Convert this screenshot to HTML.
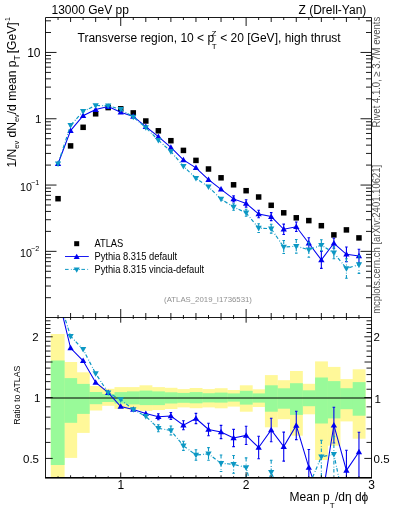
<!DOCTYPE html><html><head><meta charset="utf-8"><style>html,body{margin:0;padding:0;background:#fff;width:393px;height:512px;overflow:hidden}svg{display:block;will-change:transform}</style></head><body>
<svg width="393" height="512" viewBox="0 0 393 512" font-family="'Liberation Sans', sans-serif">
<defs><clipPath id="cm"><rect x="45.5" y="17.5" width="326" height="300"/></clipPath><clipPath id="cr"><rect x="45.5" y="317.5" width="326" height="160.2"/></clipPath></defs>
<g clip-path="url(#cr)">
<rect x="50.80" y="334.00" width="13.81" height="143.70" fill="#fff899"/>
<rect x="64.31" y="362.00" width="12.84" height="95.90" fill="#fff899"/>
<rect x="76.85" y="372.30" width="12.84" height="60.60" fill="#fff899"/>
<rect x="89.38" y="386.00" width="12.84" height="24.50" fill="#fff899"/>
<rect x="101.92" y="388.80" width="12.84" height="17.00" fill="#fff899"/>
<rect x="114.46" y="387.10" width="12.84" height="21.80" fill="#fff899"/>
<rect x="127.00" y="387.10" width="12.84" height="22.30" fill="#fff899"/>
<rect x="139.54" y="385.30" width="12.84" height="25.60" fill="#fff899"/>
<rect x="152.08" y="387.10" width="12.84" height="22.90" fill="#fff899"/>
<rect x="164.62" y="387.80" width="12.84" height="21.20" fill="#fff899"/>
<rect x="177.15" y="389.10" width="12.84" height="18.30" fill="#fff899"/>
<rect x="189.69" y="388.00" width="12.84" height="20.20" fill="#fff899"/>
<rect x="202.23" y="389.10" width="12.84" height="18.30" fill="#fff899"/>
<rect x="214.77" y="388.20" width="12.84" height="20.10" fill="#fff899"/>
<rect x="227.31" y="390.00" width="12.84" height="16.60" fill="#fff899"/>
<rect x="239.85" y="385.30" width="12.84" height="26.40" fill="#fff899"/>
<rect x="252.38" y="389.30" width="12.84" height="17.70" fill="#fff899"/>
<rect x="264.92" y="375.10" width="12.84" height="52.20" fill="#fff899"/>
<rect x="277.46" y="380.20" width="12.84" height="39.00" fill="#fff899"/>
<rect x="290.00" y="371.00" width="12.84" height="64.70" fill="#fff899"/>
<rect x="302.54" y="383.80" width="12.84" height="30.50" fill="#fff899"/>
<rect x="315.08" y="361.40" width="12.84" height="98.60" fill="#fff899"/>
<rect x="327.62" y="366.90" width="12.84" height="78.80" fill="#fff899"/>
<rect x="340.15" y="379.10" width="12.84" height="42.30" fill="#fff899"/>
<rect x="352.69" y="369.30" width="12.84" height="69.40" fill="#fff899"/>
<rect x="50.80" y="360.50" width="13.81" height="104.50" fill="#99fa99"/>
<rect x="64.31" y="378.10" width="12.84" height="44.70" fill="#99fa99"/>
<rect x="76.85" y="383.90" width="12.84" height="30.00" fill="#99fa99"/>
<rect x="89.38" y="392.00" width="12.84" height="12.20" fill="#99fa99"/>
<rect x="101.92" y="394.00" width="12.84" height="8.00" fill="#99fa99"/>
<rect x="114.46" y="392.10" width="12.84" height="11.50" fill="#99fa99"/>
<rect x="127.00" y="391.40" width="12.84" height="13.00" fill="#99fa99"/>
<rect x="139.54" y="390.60" width="12.84" height="14.50" fill="#99fa99"/>
<rect x="152.08" y="391.40" width="12.84" height="13.70" fill="#99fa99"/>
<rect x="164.62" y="392.30" width="12.84" height="11.20" fill="#99fa99"/>
<rect x="177.15" y="392.90" width="12.84" height="9.90" fill="#99fa99"/>
<rect x="189.69" y="392.10" width="12.84" height="11.20" fill="#99fa99"/>
<rect x="202.23" y="393.20" width="12.84" height="9.20" fill="#99fa99"/>
<rect x="214.77" y="392.60" width="12.84" height="10.00" fill="#99fa99"/>
<rect x="227.31" y="393.40" width="12.84" height="8.20" fill="#99fa99"/>
<rect x="239.85" y="390.80" width="12.84" height="13.80" fill="#99fa99"/>
<rect x="252.38" y="393.40" width="12.84" height="9.20" fill="#99fa99"/>
<rect x="264.92" y="385.30" width="12.84" height="26.40" fill="#99fa99"/>
<rect x="277.46" y="388.30" width="12.84" height="20.40" fill="#99fa99"/>
<rect x="290.00" y="383.20" width="12.84" height="31.70" fill="#99fa99"/>
<rect x="302.54" y="390.30" width="12.84" height="15.90" fill="#99fa99"/>
<rect x="315.08" y="377.50" width="12.84" height="46.00" fill="#99fa99"/>
<rect x="327.62" y="381.10" width="12.84" height="37.30" fill="#99fa99"/>
<rect x="340.15" y="388.20" width="12.84" height="21.00" fill="#99fa99"/>
<rect x="352.69" y="382.10" width="12.84" height="33.60" fill="#99fa99"/>
<line x1="45.5" y1="398.0" x2="371.5" y2="398.0" stroke="#000" stroke-width="1"/>
<polyline points="58.04,296.40 70.58,348.00 83.12,360.80 95.65,382.50 108.19,392.70 120.73,406.50 133.27,409.50 145.81,413.60 158.35,416.70 170.88,416.00 183.42,425.20 195.96,418.50 208.50,429.50 221.04,432.00 233.58,438.00 246.12,435.40 258.65,447.50 271.19,430.00 283.73,446.60 296.27,425.40 308.81,467.40 321.35,503.00 333.88,425.10 346.42,470.40 358.96,452.00" fill="none" stroke="#0000f0" stroke-width="1.05"/>
<path d="M158.35,413.70V419.70 M170.88,412.50V419.50 M183.42,420.70V429.70 M195.96,413.40V423.60 M208.50,423.20V435.80 M221.04,425.40V438.60 M233.58,429.40V446.60 M246.12,426.30V444.50 M258.65,436.30V458.70 M271.19,418.30V441.70 M283.73,432.10V461.10 M296.27,411.20V439.60 M308.81,449.50V490.00 M321.35,481.00V525.00 M333.88,407.20V443.00 M346.42,450.20V490.00 M358.96,432.20V490.00" fill="none" stroke="#0000f0" stroke-width="1.1"/>
<path d="M157.05,413.70h2.6 M157.05,419.70h2.6 M169.58,412.50h2.6 M169.58,419.50h2.6 M182.12,420.70h2.6 M182.12,429.70h2.6 M194.66,413.40h2.6 M194.66,423.60h2.6 M207.20,423.20h2.6 M207.20,435.80h2.6 M219.74,425.40h2.6 M219.74,438.60h2.6 M232.28,429.40h2.6 M232.28,446.60h2.6 M244.82,426.30h2.6 M244.82,444.50h2.6 M257.35,436.30h2.6 M257.35,458.70h2.6 M269.89,418.30h2.6 M269.89,441.70h2.6 M282.43,432.10h2.6 M282.43,461.10h2.6 M294.97,411.20h2.6 M294.97,439.60h2.6 M307.51,449.50h2.6 M307.51,490.00h2.6 M320.05,481.00h2.6 M320.05,525.00h2.6 M332.58,407.20h2.6 M332.58,443.00h2.6 M345.12,450.20h2.6 M345.12,490.00h2.6 M357.66,432.20h2.6 M357.66,490.00h2.6" fill="none" stroke="#0000f0" stroke-width="1.1"/>
<path d="M54.89,298.68L61.19,298.68L58.04,293.20Z" fill="#0000f0"/>
<path d="M67.43,350.28L73.73,350.28L70.58,344.80Z" fill="#0000f0"/>
<path d="M79.97,363.08L86.27,363.08L83.12,357.60Z" fill="#0000f0"/>
<path d="M92.50,384.78L98.80,384.78L95.65,379.30Z" fill="#0000f0"/>
<path d="M105.04,394.98L111.34,394.98L108.19,389.50Z" fill="#0000f0"/>
<path d="M117.58,408.78L123.88,408.78L120.73,403.30Z" fill="#0000f0"/>
<path d="M130.12,411.78L136.42,411.78L133.27,406.30Z" fill="#0000f0"/>
<path d="M142.66,415.88L148.96,415.88L145.81,410.40Z" fill="#0000f0"/>
<path d="M155.20,418.98L161.50,418.98L158.35,413.50Z" fill="#0000f0"/>
<path d="M167.73,418.28L174.03,418.28L170.88,412.80Z" fill="#0000f0"/>
<path d="M180.27,427.48L186.57,427.48L183.42,422.00Z" fill="#0000f0"/>
<path d="M192.81,420.78L199.11,420.78L195.96,415.30Z" fill="#0000f0"/>
<path d="M205.35,431.78L211.65,431.78L208.50,426.30Z" fill="#0000f0"/>
<path d="M217.89,434.28L224.19,434.28L221.04,428.80Z" fill="#0000f0"/>
<path d="M230.43,440.28L236.73,440.28L233.58,434.80Z" fill="#0000f0"/>
<path d="M242.97,437.68L249.27,437.68L246.12,432.20Z" fill="#0000f0"/>
<path d="M255.50,449.78L261.80,449.78L258.65,444.30Z" fill="#0000f0"/>
<path d="M268.04,432.28L274.34,432.28L271.19,426.80Z" fill="#0000f0"/>
<path d="M280.58,448.88L286.88,448.88L283.73,443.40Z" fill="#0000f0"/>
<path d="M293.12,427.68L299.42,427.68L296.27,422.20Z" fill="#0000f0"/>
<path d="M305.66,469.68L311.96,469.68L308.81,464.20Z" fill="#0000f0"/>
<path d="M318.20,505.28L324.50,505.28L321.35,499.80Z" fill="#0000f0"/>
<path d="M330.73,427.38L337.03,427.38L333.88,421.90Z" fill="#0000f0"/>
<path d="M343.27,472.68L349.57,472.68L346.42,467.20Z" fill="#0000f0"/>
<path d="M355.81,454.28L362.11,454.28L358.96,448.80Z" fill="#0000f0"/>
<polyline points="58.04,296.40 70.58,336.20 83.12,349.40 95.65,373.50 108.19,392.70 120.73,399.60 133.27,409.50 145.81,416.40 158.35,428.30 170.88,430.50 183.42,445.80 195.96,455.00 208.50,453.90 221.04,463.20 233.58,464.40 246.12,467.50 258.65,515.00 271.19,472.40 283.73,501.80 296.27,484.40 308.81,486.00 321.35,456.80 333.88,454.20 346.42,514.00 358.96,540.00" fill="none" stroke="#0c98c4" stroke-width="1.2" stroke-dasharray="3.6 2.3 0.8 1.5"/>
<path d="M158.35,424.80V431.80 M170.88,426.00V435.00 M183.42,441.20V450.40 M195.96,449.75V460.25 M208.50,447.60V460.20 M221.04,454.95V471.45 M233.58,455.50V473.30 M246.12,457.90V490.00 M258.65,502.00V528.00 M271.19,460.20V490.00 M283.73,482.80V520.80 M321.35,440.30V490.00 M333.88,436.20V490.00" fill="none" stroke="#0c98c4" stroke-width="1.1" stroke-dasharray="3.6 2.3 0.8 1.5"/>
<path d="M157.05,424.80h2.6 M157.05,431.80h2.6 M169.58,426.00h2.6 M169.58,435.00h2.6 M182.12,441.20h2.6 M182.12,450.40h2.6 M194.66,449.75h2.6 M194.66,460.25h2.6 M207.20,447.60h2.6 M207.20,460.20h2.6 M219.74,454.95h2.6 M219.74,471.45h2.6 M232.28,455.50h2.6 M232.28,473.30h2.6 M244.82,457.90h2.6 M244.82,490.00h2.6 M257.35,502.00h2.6 M257.35,528.00h2.6 M269.89,460.20h2.6 M269.89,490.00h2.6 M282.43,482.80h2.6 M282.43,520.80h2.6 M320.05,440.30h2.6 M320.05,490.00h2.6 M332.58,436.20h2.6 M332.58,490.00h2.6" fill="none" stroke="#0c98c4" stroke-width="1.1"/>
<path d="M54.89,294.12L61.19,294.12L58.04,299.60Z" fill="#0c98c4"/>
<path d="M67.43,333.92L73.73,333.92L70.58,339.40Z" fill="#0c98c4"/>
<path d="M79.97,347.12L86.27,347.12L83.12,352.60Z" fill="#0c98c4"/>
<path d="M92.50,371.22L98.80,371.22L95.65,376.70Z" fill="#0c98c4"/>
<path d="M105.04,390.42L111.34,390.42L108.19,395.90Z" fill="#0c98c4"/>
<path d="M117.58,397.32L123.88,397.32L120.73,402.80Z" fill="#0c98c4"/>
<path d="M130.12,407.22L136.42,407.22L133.27,412.70Z" fill="#0c98c4"/>
<path d="M142.66,414.12L148.96,414.12L145.81,419.60Z" fill="#0c98c4"/>
<path d="M155.20,426.02L161.50,426.02L158.35,431.50Z" fill="#0c98c4"/>
<path d="M167.73,428.22L174.03,428.22L170.88,433.70Z" fill="#0c98c4"/>
<path d="M180.27,443.52L186.57,443.52L183.42,449.00Z" fill="#0c98c4"/>
<path d="M192.81,452.72L199.11,452.72L195.96,458.20Z" fill="#0c98c4"/>
<path d="M205.35,451.62L211.65,451.62L208.50,457.10Z" fill="#0c98c4"/>
<path d="M217.89,460.92L224.19,460.92L221.04,466.40Z" fill="#0c98c4"/>
<path d="M230.43,462.12L236.73,462.12L233.58,467.60Z" fill="#0c98c4"/>
<path d="M242.97,465.22L249.27,465.22L246.12,470.70Z" fill="#0c98c4"/>
<path d="M255.50,512.72L261.80,512.72L258.65,518.20Z" fill="#0c98c4"/>
<path d="M268.04,470.12L274.34,470.12L271.19,475.60Z" fill="#0c98c4"/>
<path d="M280.58,499.52L286.88,499.52L283.73,505.00Z" fill="#0c98c4"/>
<path d="M293.12,482.12L299.42,482.12L296.27,487.60Z" fill="#0c98c4"/>
<path d="M305.66,483.72L311.96,483.72L308.81,489.20Z" fill="#0c98c4"/>
<path d="M318.20,454.52L324.50,454.52L321.35,460.00Z" fill="#0c98c4"/>
<path d="M330.73,451.92L337.03,451.92L333.88,457.40Z" fill="#0c98c4"/>
<path d="M343.27,511.72L349.57,511.72L346.42,517.20Z" fill="#0c98c4"/>
<path d="M355.81,537.72L362.11,537.72L358.96,543.20Z" fill="#0c98c4"/>
</g>
<g clip-path="url(#cm)">
<rect x="55.29" y="195.95" width="5.5" height="5.5" fill="#000"/>
<rect x="67.83" y="143.15" width="5.5" height="5.5" fill="#000"/>
<rect x="80.37" y="124.55" width="5.5" height="5.5" fill="#000"/>
<rect x="92.90" y="111.05" width="5.5" height="5.5" fill="#000"/>
<rect x="105.44" y="104.85" width="5.5" height="5.5" fill="#000"/>
<rect x="117.98" y="106.05" width="5.5" height="5.5" fill="#000"/>
<rect x="130.52" y="110.15" width="5.5" height="5.5" fill="#000"/>
<rect x="143.06" y="118.25" width="5.5" height="5.5" fill="#000"/>
<rect x="155.60" y="128.05" width="5.5" height="5.5" fill="#000"/>
<rect x="168.13" y="137.95" width="5.5" height="5.5" fill="#000"/>
<rect x="180.67" y="147.65" width="5.5" height="5.5" fill="#000"/>
<rect x="193.21" y="157.65" width="5.5" height="5.5" fill="#000"/>
<rect x="205.75" y="166.25" width="5.5" height="5.5" fill="#000"/>
<rect x="218.29" y="175.05" width="5.5" height="5.5" fill="#000"/>
<rect x="230.83" y="182.05" width="5.5" height="5.5" fill="#000"/>
<rect x="243.37" y="187.95" width="5.5" height="5.5" fill="#000"/>
<rect x="255.90" y="194.25" width="5.5" height="5.5" fill="#000"/>
<rect x="268.44" y="202.55" width="5.5" height="5.5" fill="#000"/>
<rect x="280.98" y="210.05" width="5.5" height="5.5" fill="#000"/>
<rect x="293.52" y="215.05" width="5.5" height="5.5" fill="#000"/>
<rect x="306.06" y="217.85" width="5.5" height="5.5" fill="#000"/>
<rect x="318.60" y="222.95" width="5.5" height="5.5" fill="#000"/>
<rect x="331.13" y="232.15" width="5.5" height="5.5" fill="#000"/>
<rect x="343.67" y="227.15" width="5.5" height="5.5" fill="#000"/>
<rect x="356.21" y="235.15" width="5.5" height="5.5" fill="#000"/>
<polyline points="58.04,163.80 70.58,130.60 83.12,115.70 95.65,109.60 108.19,106.60 120.73,112.30 133.27,116.40 145.81,126.60 158.35,136.70 170.88,147.40 183.42,159.90 195.96,167.80 208.50,179.60 221.04,189.30 233.58,198.90 246.12,203.40 258.65,214.00 271.19,216.60 283.73,229.30 296.27,226.80 308.81,243.30 321.35,259.90 333.88,243.30 346.42,254.30 358.96,256.00" fill="none" stroke="#0000f0" stroke-width="1.05"/>
<path d="M233.58,195.90V201.90 M246.12,199.70V207.10 M258.65,210.30V217.70 M271.19,212.60V220.60 M283.73,224.10V234.50 M296.27,222.05V231.55 M308.81,237.80V248.80 M321.35,251.40V268.40 M333.88,238.30V248.30 M346.42,247.00V261.60 M358.96,249.20V262.80" fill="none" stroke="#0000f0" stroke-width="1.1"/>
<path d="M232.28,195.90h2.6 M232.28,201.90h2.6 M244.82,199.70h2.6 M244.82,207.10h2.6 M257.35,210.30h2.6 M257.35,217.70h2.6 M269.89,212.60h2.6 M269.89,220.60h2.6 M282.43,224.10h2.6 M282.43,234.50h2.6 M294.97,222.05h2.6 M294.97,231.55h2.6 M307.51,237.80h2.6 M307.51,248.80h2.6 M320.05,251.40h2.6 M320.05,268.40h2.6 M332.58,238.30h2.6 M332.58,248.30h2.6 M345.12,247.00h2.6 M345.12,261.60h2.6 M357.66,249.20h2.6 M357.66,262.80h2.6" fill="none" stroke="#0000f0" stroke-width="1.1"/>
<path d="M54.89,166.08L61.19,166.08L58.04,160.60Z" fill="#0000f0"/>
<path d="M67.43,132.88L73.73,132.88L70.58,127.40Z" fill="#0000f0"/>
<path d="M79.97,117.98L86.27,117.98L83.12,112.50Z" fill="#0000f0"/>
<path d="M92.50,111.88L98.80,111.88L95.65,106.40Z" fill="#0000f0"/>
<path d="M105.04,108.88L111.34,108.88L108.19,103.40Z" fill="#0000f0"/>
<path d="M117.58,114.58L123.88,114.58L120.73,109.10Z" fill="#0000f0"/>
<path d="M130.12,118.68L136.42,118.68L133.27,113.20Z" fill="#0000f0"/>
<path d="M142.66,128.88L148.96,128.88L145.81,123.40Z" fill="#0000f0"/>
<path d="M155.20,138.98L161.50,138.98L158.35,133.50Z" fill="#0000f0"/>
<path d="M167.73,149.68L174.03,149.68L170.88,144.20Z" fill="#0000f0"/>
<path d="M180.27,162.18L186.57,162.18L183.42,156.70Z" fill="#0000f0"/>
<path d="M192.81,170.08L199.11,170.08L195.96,164.60Z" fill="#0000f0"/>
<path d="M205.35,181.88L211.65,181.88L208.50,176.40Z" fill="#0000f0"/>
<path d="M217.89,191.58L224.19,191.58L221.04,186.10Z" fill="#0000f0"/>
<path d="M230.43,201.18L236.73,201.18L233.58,195.70Z" fill="#0000f0"/>
<path d="M242.97,205.68L249.27,205.68L246.12,200.20Z" fill="#0000f0"/>
<path d="M255.50,216.28L261.80,216.28L258.65,210.80Z" fill="#0000f0"/>
<path d="M268.04,218.88L274.34,218.88L271.19,213.40Z" fill="#0000f0"/>
<path d="M280.58,231.58L286.88,231.58L283.73,226.10Z" fill="#0000f0"/>
<path d="M293.12,229.08L299.42,229.08L296.27,223.60Z" fill="#0000f0"/>
<path d="M305.66,245.58L311.96,245.58L308.81,240.10Z" fill="#0000f0"/>
<path d="M318.20,262.18L324.50,262.18L321.35,256.70Z" fill="#0000f0"/>
<path d="M330.73,245.58L337.03,245.58L333.88,240.10Z" fill="#0000f0"/>
<path d="M343.27,256.58L349.57,256.58L346.42,251.10Z" fill="#0000f0"/>
<path d="M355.81,258.28L362.11,258.28L358.96,252.80Z" fill="#0000f0"/>
<polyline points="58.04,163.80 70.58,125.40 83.12,111.40 95.65,105.50 108.19,105.80 120.73,109.30 133.27,117.00 145.81,127.60 158.35,140.20 170.88,151.50 183.42,166.20 195.96,178.30 208.50,186.80 221.04,199.10 233.58,207.00 246.12,212.80 258.65,228.10 271.19,228.70 283.73,247.00 296.27,246.30 308.81,249.70 321.35,245.20 333.88,252.80 346.42,268.50 358.96,264.60" fill="none" stroke="#0c98c4" stroke-width="1.2" stroke-dasharray="3.6 2.3 0.8 1.5"/>
<path d="M233.58,203.70V210.30 M246.12,209.30V216.30 M258.65,223.75V232.45 M271.19,224.25V233.15 M283.73,240.50V253.50 M296.27,239.50V253.10 M308.81,242.20V257.20 M321.35,239.70V250.70 M333.88,246.80V258.80 M346.42,258.70V278.30 M358.96,255.80V273.40" fill="none" stroke="#0c98c4" stroke-width="1.1" stroke-dasharray="3.6 2.3 0.8 1.5"/>
<path d="M232.28,203.70h2.6 M232.28,210.30h2.6 M244.82,209.30h2.6 M244.82,216.30h2.6 M257.35,223.75h2.6 M257.35,232.45h2.6 M269.89,224.25h2.6 M269.89,233.15h2.6 M282.43,240.50h2.6 M282.43,253.50h2.6 M294.97,239.50h2.6 M294.97,253.10h2.6 M307.51,242.20h2.6 M307.51,257.20h2.6 M320.05,239.70h2.6 M320.05,250.70h2.6 M332.58,246.80h2.6 M332.58,258.80h2.6 M345.12,258.70h2.6 M345.12,278.30h2.6 M357.66,255.80h2.6 M357.66,273.40h2.6" fill="none" stroke="#0c98c4" stroke-width="1.1"/>
<path d="M54.89,161.52L61.19,161.52L58.04,167.00Z" fill="#0c98c4"/>
<path d="M67.43,123.12L73.73,123.12L70.58,128.60Z" fill="#0c98c4"/>
<path d="M79.97,109.12L86.27,109.12L83.12,114.60Z" fill="#0c98c4"/>
<path d="M92.50,103.22L98.80,103.22L95.65,108.70Z" fill="#0c98c4"/>
<path d="M105.04,103.52L111.34,103.52L108.19,109.00Z" fill="#0c98c4"/>
<path d="M117.58,107.02L123.88,107.02L120.73,112.50Z" fill="#0c98c4"/>
<path d="M130.12,114.72L136.42,114.72L133.27,120.20Z" fill="#0c98c4"/>
<path d="M142.66,125.32L148.96,125.32L145.81,130.80Z" fill="#0c98c4"/>
<path d="M155.20,137.92L161.50,137.92L158.35,143.40Z" fill="#0c98c4"/>
<path d="M167.73,149.22L174.03,149.22L170.88,154.70Z" fill="#0c98c4"/>
<path d="M180.27,163.92L186.57,163.92L183.42,169.40Z" fill="#0c98c4"/>
<path d="M192.81,176.02L199.11,176.02L195.96,181.50Z" fill="#0c98c4"/>
<path d="M205.35,184.52L211.65,184.52L208.50,190.00Z" fill="#0c98c4"/>
<path d="M217.89,196.82L224.19,196.82L221.04,202.30Z" fill="#0c98c4"/>
<path d="M230.43,204.72L236.73,204.72L233.58,210.20Z" fill="#0c98c4"/>
<path d="M242.97,210.52L249.27,210.52L246.12,216.00Z" fill="#0c98c4"/>
<path d="M255.50,225.82L261.80,225.82L258.65,231.30Z" fill="#0c98c4"/>
<path d="M268.04,226.42L274.34,226.42L271.19,231.90Z" fill="#0c98c4"/>
<path d="M280.58,244.72L286.88,244.72L283.73,250.20Z" fill="#0c98c4"/>
<path d="M293.12,244.02L299.42,244.02L296.27,249.50Z" fill="#0c98c4"/>
<path d="M305.66,247.42L311.96,247.42L308.81,252.90Z" fill="#0c98c4"/>
<path d="M318.20,242.92L324.50,242.92L321.35,248.40Z" fill="#0c98c4"/>
<path d="M330.73,250.52L337.03,250.52L333.88,256.00Z" fill="#0c98c4"/>
<path d="M343.27,266.22L349.57,266.22L346.42,271.70Z" fill="#0c98c4"/>
<path d="M355.81,262.32L362.11,262.32L358.96,267.80Z" fill="#0c98c4"/>
</g>
<path d="M45.5,17.5H371.5V477.7H45.5Z M45.5,317.5H371.5 M58.04,17.5v2.5 M58.04,317.5v-2.5 M58.04,317.5v1.4 M58.04,477.7v-1.4 M70.58,17.5v4.5 M70.58,317.5v-4.5 M70.58,317.5v2.4 M70.58,477.7v-2.4 M83.12,17.5v2.5 M83.12,317.5v-2.5 M83.12,317.5v1.4 M83.12,477.7v-1.4 M95.65,17.5v4.5 M95.65,317.5v-4.5 M95.65,317.5v2.4 M95.65,477.7v-2.4 M108.19,17.5v2.5 M108.19,317.5v-2.5 M108.19,317.5v1.4 M108.19,477.7v-1.4 M120.73,17.5v8.5 M120.73,317.5v-8.5 M120.73,317.5v5.2 M120.73,477.7v-5.2 M133.27,17.5v2.5 M133.27,317.5v-2.5 M133.27,317.5v1.4 M133.27,477.7v-1.4 M145.81,17.5v4.5 M145.81,317.5v-4.5 M145.81,317.5v2.4 M145.81,477.7v-2.4 M158.35,17.5v2.5 M158.35,317.5v-2.5 M158.35,317.5v1.4 M158.35,477.7v-1.4 M170.88,17.5v4.5 M170.88,317.5v-4.5 M170.88,317.5v2.4 M170.88,477.7v-2.4 M183.42,17.5v2.5 M183.42,317.5v-2.5 M183.42,317.5v1.4 M183.42,477.7v-1.4 M195.96,17.5v4.5 M195.96,317.5v-4.5 M195.96,317.5v2.4 M195.96,477.7v-2.4 M208.50,17.5v2.5 M208.50,317.5v-2.5 M208.50,317.5v1.4 M208.50,477.7v-1.4 M221.04,17.5v4.5 M221.04,317.5v-4.5 M221.04,317.5v2.4 M221.04,477.7v-2.4 M233.58,17.5v2.5 M233.58,317.5v-2.5 M233.58,317.5v1.4 M233.58,477.7v-1.4 M246.12,17.5v8.5 M246.12,317.5v-8.5 M246.12,317.5v5.2 M246.12,477.7v-5.2 M258.65,17.5v2.5 M258.65,317.5v-2.5 M258.65,317.5v1.4 M258.65,477.7v-1.4 M271.19,17.5v4.5 M271.19,317.5v-4.5 M271.19,317.5v2.4 M271.19,477.7v-2.4 M283.73,17.5v2.5 M283.73,317.5v-2.5 M283.73,317.5v1.4 M283.73,477.7v-1.4 M296.27,17.5v4.5 M296.27,317.5v-4.5 M296.27,317.5v2.4 M296.27,477.7v-2.4 M308.81,17.5v2.5 M308.81,317.5v-2.5 M308.81,317.5v1.4 M308.81,477.7v-1.4 M321.35,17.5v4.5 M321.35,317.5v-4.5 M321.35,317.5v2.4 M321.35,477.7v-2.4 M333.88,17.5v2.5 M333.88,317.5v-2.5 M333.88,317.5v1.4 M333.88,477.7v-1.4 M346.42,17.5v4.5 M346.42,317.5v-4.5 M346.42,317.5v2.4 M346.42,477.7v-2.4 M358.96,17.5v2.5 M358.96,317.5v-2.5 M358.96,317.5v1.4 M358.96,477.7v-1.4 M45.5,297.69h5.5 M371.5,297.69h-5.5 M45.5,286.02h5.5 M371.5,286.02h-5.5 M45.5,277.73h5.5 M371.5,277.73h-5.5 M45.5,271.31h5.5 M371.5,271.31h-5.5 M45.5,266.06h5.5 M371.5,266.06h-5.5 M45.5,261.62h5.5 M371.5,261.62h-5.5 M45.5,257.78h5.5 M371.5,257.78h-5.5 M45.5,254.38h5.5 M371.5,254.38h-5.5 M45.5,251.35h11 M371.5,251.35h-11 M45.5,231.39h5.5 M371.5,231.39h-5.5 M45.5,219.72h5.5 M371.5,219.72h-5.5 M45.5,211.43h5.5 M371.5,211.43h-5.5 M45.5,205.01h5.5 M371.5,205.01h-5.5 M45.5,199.76h5.5 M371.5,199.76h-5.5 M45.5,195.32h5.5 M371.5,195.32h-5.5 M45.5,191.48h5.5 M371.5,191.48h-5.5 M45.5,188.08h5.5 M371.5,188.08h-5.5 M45.5,185.05h11 M371.5,185.05h-11 M45.5,165.09h5.5 M371.5,165.09h-5.5 M45.5,153.42h5.5 M371.5,153.42h-5.5 M45.5,145.13h5.5 M371.5,145.13h-5.5 M45.5,138.71h5.5 M371.5,138.71h-5.5 M45.5,133.46h5.5 M371.5,133.46h-5.5 M45.5,129.02h5.5 M371.5,129.02h-5.5 M45.5,125.18h5.5 M371.5,125.18h-5.5 M45.5,121.78h5.5 M371.5,121.78h-5.5 M45.5,118.75h11 M371.5,118.75h-11 M45.5,98.79h5.5 M371.5,98.79h-5.5 M45.5,87.12h5.5 M371.5,87.12h-5.5 M45.5,78.83h5.5 M371.5,78.83h-5.5 M45.5,72.41h5.5 M371.5,72.41h-5.5 M45.5,67.16h5.5 M371.5,67.16h-5.5 M45.5,62.72h5.5 M371.5,62.72h-5.5 M45.5,58.88h5.5 M371.5,58.88h-5.5 M45.5,55.48h5.5 M371.5,55.48h-5.5 M45.5,52.45h11 M371.5,52.45h-11 M45.5,32.49h5.5 M371.5,32.49h-5.5 M45.5,20.82h5.5 M371.5,20.82h-5.5 M45.5,458.41h7.2 M371.5,458.41h-7.2 M45.5,442.41h5 M371.5,442.41h-5 M45.5,428.89h5 M371.5,428.89h-5 M45.5,417.18h5 M371.5,417.18h-5 M45.5,406.84h5 M371.5,406.84h-5 M45.5,397.60h7.2 M371.5,397.60h-7.2 M45.5,389.24h5 M371.5,389.24h-5 M45.5,381.61h5 M371.5,381.61h-5 M45.5,374.58h5 M371.5,374.58h-5 M45.5,368.08h5 M371.5,368.08h-5 M45.5,362.03h7 M371.5,362.03h-7 M45.5,356.37h5 M371.5,356.37h-5 M45.5,351.05h5 M371.5,351.05h-5 M45.5,346.03h5 M371.5,346.03h-5 M45.5,341.29h5 M371.5,341.29h-5 M45.5,336.79h7.2 M371.5,336.79h-7.2 M45.5,332.51h5 M371.5,332.51h-5 M45.5,328.43h5 M371.5,328.43h-5 M45.5,324.53h5 M371.5,324.53h-5 M45.5,320.80h5 M371.5,320.80h-5" fill="none" stroke="#000" stroke-width="0.9"/>
<line x1="45.0" y1="477.7" x2="372.0" y2="477.7" stroke="#000" stroke-width="1.6"/>
<text x="51.5" y="14.4" font-size="12" text-anchor="start" fill="#000">13000 GeV pp</text>
<text x="366.3" y="14.4" font-size="12" text-anchor="end" fill="#000">Z (Drell-Yan)</text>
<text x="209.1" y="42.2" font-size="12" text-anchor="middle">Transverse region, 10 &lt; p<tspan dx="-2.6" dy="-6.4" font-size="8">Z</tspan><tspan dx="-4.6" dy="13.0" font-size="8">T</tspan><tspan dx="0.2" dy="-6.6"> &lt; 20 [GeV], high thrust</tspan></text>
<text x="40.5" y="56.75" font-size="12" text-anchor="end" fill="#000">10</text>
<text x="41.4" y="123.05" font-size="11.5" text-anchor="end" fill="#000">1</text>
<text x="39.3" y="190.65" font-size="10.7" text-anchor="end">10<tspan dx="-0.9" dy="-5.8" font-size="7.2">−1</tspan></text>
<text x="39.3" y="256.95" font-size="10.7" text-anchor="end">10<tspan dx="-0.9" dy="-5.8" font-size="7.2">−2</tspan></text>
<text x="38.6" y="340.89194087587583" font-size="11.5" text-anchor="end" fill="#000">2</text>
<text x="40.5" y="401.90000000000003" font-size="11.5" text-anchor="end" fill="#000">1</text>
<text x="39.0" y="462.50805912412426" font-size="11.5" text-anchor="end" fill="#000">0.5</text>
<text x="373.4" y="340.89194087587583" font-size="11.5" text-anchor="start" fill="#000">2</text>
<text x="374.4" y="402.6" font-size="11.5" text-anchor="start" fill="#000">1</text>
<text x="373.6" y="462.50805912412426" font-size="11.5" text-anchor="start" fill="#000">0.5</text>
<text x="120.73076923076923" y="488.7" font-size="12" text-anchor="middle" fill="#000">1</text>
<text x="246.1153846153846" y="488.7" font-size="12" text-anchor="middle" fill="#000">2</text>
<text x="371.5" y="488.7" font-size="12" text-anchor="middle" fill="#000">3</text>
<text x="368.3" y="500.6" font-size="12" text-anchor="end">Mean p<tspan dx="0.2" dy="7" font-size="8">T</tspan><tspan dx="0.2" dy="-7">/dη dϕ</tspan></text>
<text transform="translate(15.8,17.2) rotate(-90)" font-size="12.1" text-anchor="end">1/N<tspan dy="3.2" font-size="7.4">ev</tspan><tspan dy="-3.2"> dN</tspan><tspan dy="3.2" font-size="7.4">ev</tspan><tspan dy="-3.2">/d mean p</tspan><tspan dy="4.2" font-size="8.6">T</tspan><tspan dx="-1.5" dy="-4.2"> [GeV]</tspan><tspan dx="-1" dy="-5.5" font-size="7">-1</tspan></text>
<text transform="translate(19.7,395.2) rotate(-90) scale(0.9,1)" font-size="9.75" text-anchor="middle">Ratio to ATLAS</text>
<text transform="translate(379.8,127.4) rotate(-90) scale(0.91,1)" font-size="10.5" fill="#555">Rivet 4.1.0, ≥ 3.7M events</text>
<text transform="translate(379.8,313.8) rotate(-90) scale(0.91,1)" font-size="10.45" fill="#555">mcplots.cern.ch [arXiv:2401.10621]</text>
<rect x="74.2" y="241.2" width="5" height="5" fill="#000"/>
<text transform="translate(94.4,246.9) scale(0.91,1)" font-size="10.3">ATLAS</text>
<line x1="65" y1="256.5" x2="88.8" y2="256.5" stroke="#0000f0" stroke-width="0.9"/>
<path d="M73.70,258.88L79.70,258.88L76.70,253.65Z" fill="#0000f0"/>
<text transform="translate(94.4,259.8) scale(0.91,1)" font-size="10.3">Pythia 8.315 default</text>
<line x1="65" y1="269.4" x2="88.8" y2="269.4" stroke="#0c98c4" stroke-width="1" stroke-dasharray="3.6 2.3 0.8 1.5"/>
<path d="M73.70,267.52L79.70,267.52L76.70,272.75Z" fill="#0c98c4"/>
<text transform="translate(94.4,272.6) scale(0.91,1)" font-size="10.3">Pythia 8.315 vincia-default</text>
<text x="208" y="301.8" font-size="7.8" text-anchor="middle" fill="#909090">(ATLAS_2019_I1736531)</text>
</svg></body></html>
